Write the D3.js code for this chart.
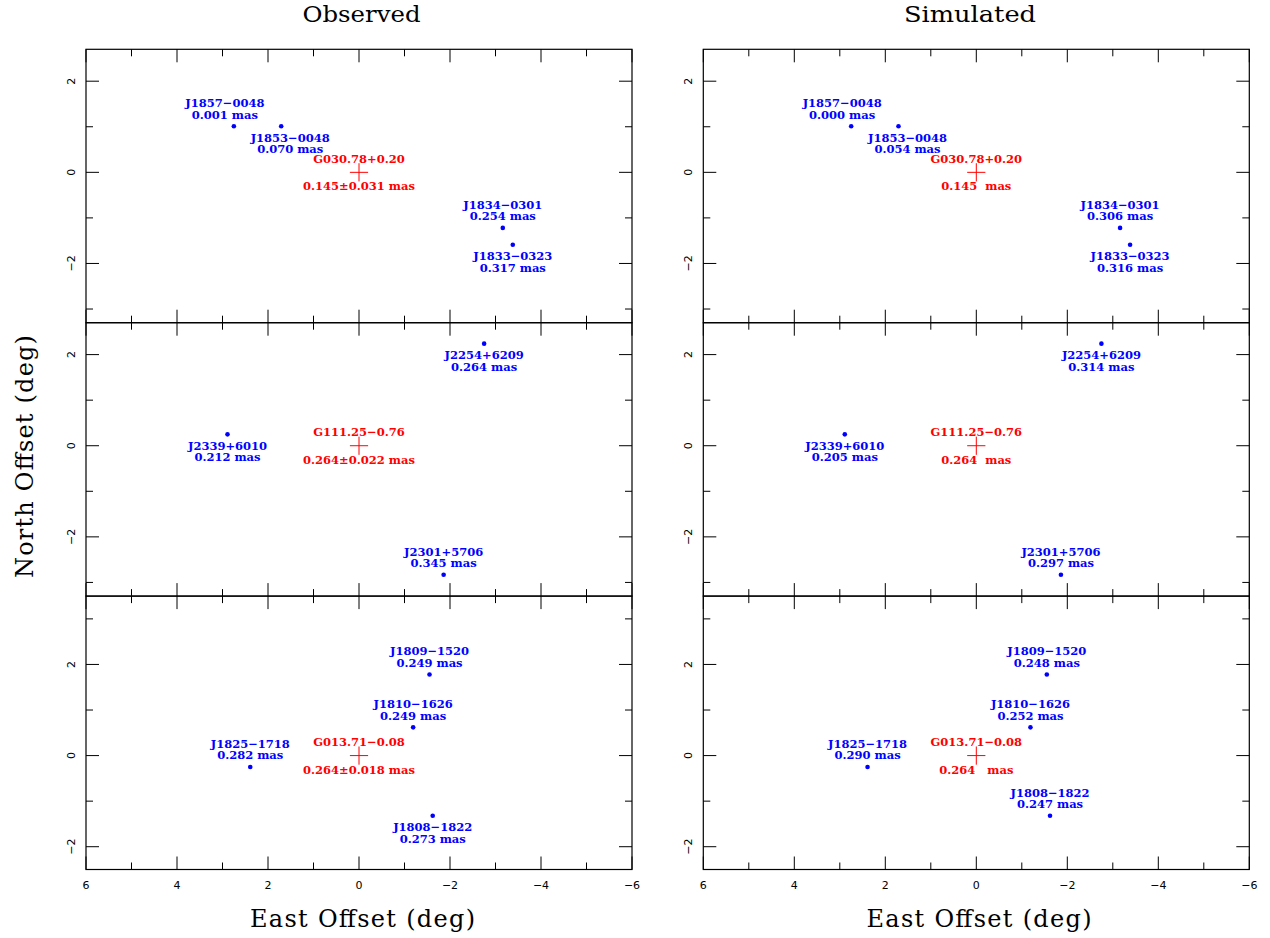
<!DOCTYPE html>
<html>
<head>
<meta charset="utf-8">
<script src="https://cdn.jsdelivr.net/npm/d3@7"></script>
<style>
  html, body { margin: 0; padding: 0; background: #fff; }
  svg { display: block; }
</style>
</head>
<body>
<svg id="chart" width="1270" height="938"></svg>
<script>
// ---------------- data ----------------
const columnTitles = ["Observed", "Simulated"];
const targetNames = ["G030.78+0.20", "G111.25\u22120.76", "G013.71\u22120.08"];
const targetObs = ["0.145\u00b10.031 mas", "0.264\u00b10.022 mas", "0.264\u00b10.018 mas"];
const targetSim = ["0.145  mas", "0.264  mas", "0.264   mas"];

const calNames = [
  ["J1857\u22120048", "J1853\u22120048", "J1834\u22120301", "J1833\u22120323"],
  ["J2254+6209", "J2339+6010", "J2301+5706"],
  ["J1809\u22121520", "J1810\u22121626", "J1825\u22121718", "J1808\u22121822"]
];
const calEast = [
  [2.75, 1.71, -3.16, -3.38],
  [-2.75, 2.89, -1.86],
  [-1.55, -1.19, 2.39, -1.62]
];
const calNorth = [
  [1.01, 1.01, -1.22, -1.59],
  [2.24, 0.25, -2.83],
  [1.78, 0.62, -0.25, -1.32]
];
const calObs = [
  ["0.001", "0.070", "0.254", "0.317"],
  ["0.264", "0.212", "0.345"],
  ["0.249", "0.249", "0.282", "0.273"]
];
const calSim = [
  ["0.000", "0.054", "0.306", "0.316"],
  ["0.314", "0.205", "0.297"],
  ["0.248", "0.252", "0.290", "0.247"]
];

const xDomain = [6, -6];
const yDomains = [[-3.3, 2.7], [-3.3, 2.7], [-2.5, 3.5]];
const xTickValues = [6, 4, 2, 0, -2, -4, -6];
const yTickValues = [-2, 0, 2];

// ---------------- layout (not data) ----------------
// label placement: "a" = above point, "b" = below point
const placeObs = [["a", "b", "a", "b"], ["b", "b", "a"], ["a", "a", "a", "b"]];
const placeSim = [["a", "b", "a", "b"], ["b", "b", "a"], ["a", "a", "a", "a"]];
const labelShift = [[-9, 9, 0, 0], [0, 0, 0], [0, 0, 0, 0]];

const panelX = [86, 703.3];
const panelW = 546;
const panelTop = 49.3;
const panelH = 273.4;
const BLUE = "#0000ff", RED = "#ff0000";
const LABEL_FONT = "'DejaVu Serif', serif";
const TICK_FONT = "'DejaVu Sans', sans-serif";
const LSIZE = 11.5;

const svg = d3.select("#chart");
const fmt = d3.format("d");

function label(g, x, y, txt, color) {
  return g.append("text").attr("x", x).attr("y", y)
    .attr("text-anchor", "middle").attr("font-family", LABEL_FONT)
    .attr("font-size", LSIZE).attr("font-weight", "bold")
    .attr("fill", color).style("white-space", "pre").text(txt);
}

for (let c = 0; c < 2; c++) {
  const x = d3.scaleLinear().domain(xDomain).range([panelX[c], panelX[c] + panelW]);
  for (let r = 0; r < 3; r++) {
    const y0 = panelTop + r * panelH;
    const y = d3.scaleLinear().domain(yDomains[r]).range([y0 + panelH, y0]);
    const g = svg.append("g");

    // frame
    g.append("rect")
      .attr("x", x.range()[0]).attr("y", y0)
      .attr("width", panelW).attr("height", panelH)
      .attr("fill", "none").attr("stroke", "#000").attr("stroke-width", 1.2);

    // x ticks (inward) top & bottom
    d3.range(-6, 7, 1).forEach(v => {
      const len = v % 2 === 0 ? 13 : 7;
      const px = x(v);
      g.append("line").attr("x1", px).attr("x2", px)
        .attr("y1", y0 + panelH).attr("y2", y0 + panelH - len)
        .attr("stroke", "#000").attr("stroke-width", 1);
      g.append("line").attr("x1", px).attr("x2", px)
        .attr("y1", y0).attr("y2", y0 + len)
        .attr("stroke", "#000").attr("stroke-width", 1);
    });
    // y ticks (inward) left & right
    d3.range(Math.ceil(yDomains[r][0]), Math.floor(yDomains[r][1]) + 1, 1).forEach(v => {
      const len = v % 2 === 0 ? 13 : 7;
      const py = y(v);
      g.append("line").attr("x1", x.range()[0]).attr("x2", x.range()[0] + len)
        .attr("y1", py).attr("y2", py)
        .attr("stroke", "#000").attr("stroke-width", 1);
      g.append("line").attr("x1", x.range()[1]).attr("x2", x.range()[1] - len)
        .attr("y1", py).attr("y2", py)
        .attr("stroke", "#000").attr("stroke-width", 1);
    });

    // y tick labels (left, rotated)
    yTickValues.forEach(v => {
      g.append("text")
        .attr("transform", `translate(${x.range()[0] - 11},${y(v)}) rotate(-90)`)
        .attr("text-anchor", "middle")
        .attr("font-family", TICK_FONT).attr("font-size", 11)
        .attr("fill", "#000")
        .text(fmt(v));
    });

    // x tick labels on bottom row
    if (r === 2) {
      xTickValues.forEach(v => {
        g.append("text")
          .attr("x", x(v)).attr("y", y0 + panelH + 19)
          .attr("text-anchor", "middle")
          .attr("font-family", TICK_FONT).attr("font-size", 11)
          .attr("fill", "#000")
          .text(fmt(v));
      });
    }

    // target cross
    const cx = x(0), cy = y(0);
    const arm = Math.abs(x(0.2) - x(0));
    g.append("line").attr("x1", cx - arm).attr("x2", cx + arm).attr("y1", cy).attr("y2", cy)
      .attr("stroke", RED).attr("stroke-width", 1);
    g.append("line").attr("x1", cx).attr("x2", cx).attr("y1", cy - arm).attr("y2", cy + arm)
      .attr("stroke", RED).attr("stroke-width", 1);
    label(g, cx, cy - 9.5, targetNames[r], RED);
    label(g, cx, cy + 18, c === 0 ? targetObs[r] : targetSim[r], RED);

    // calibrators
    const vals = c === 0 ? calObs[r] : calSim[r];
    const place = c === 0 ? placeObs[r] : placeSim[r];
    calNames[r].forEach((name, i) => {
      const px = x(calEast[r][i]), py = y(calNorth[r][i]);
      g.append("circle").attr("cx", px).attr("cy", py).attr("r", 2.3).attr("fill", BLUE);
      const above = place[i] === "a";
      const lx = px + labelShift[r][i];
      label(g, lx, above ? py - 19 : py + 15.5, name, BLUE);
      label(g, lx, above ? py - 7.5 : py + 27, vals[i] + " mas", BLUE);
    });
  }

  // column title
  svg.append("text")
    .attr("x", c === 0 ? 361.5 : 970).attr("y", 22)
    .attr("text-anchor", "middle")
    .attr("font-family", LABEL_FONT).attr("font-size", 23)
    .attr("textLength", c === 0 ? 118 : 132).attr("lengthAdjust", "spacingAndGlyphs")
    .attr("fill", "#000").text(columnTitles[c]);

  // x axis label
  svg.append("text")
    .attr("x", c === 0 ? 362.5 : 979).attr("y", 926.5)
    .attr("text-anchor", "middle")
    .attr("font-family", LABEL_FONT).attr("font-size", 24)
    .attr("textLength", 225).attr("lengthAdjust", "spacing")
    .attr("fill", "#000").text("East Offset (deg)");
}

// y axis label
svg.append("text")
  .attr("transform", "translate(33,456.5) rotate(-90)")
  .attr("text-anchor", "middle")
  .attr("font-family", LABEL_FONT).attr("font-size", 24)
  .attr("textLength", 243).attr("lengthAdjust", "spacing")
  .attr("fill", "#000").text("North Offset (deg)");
</script>
</body>
</html>
